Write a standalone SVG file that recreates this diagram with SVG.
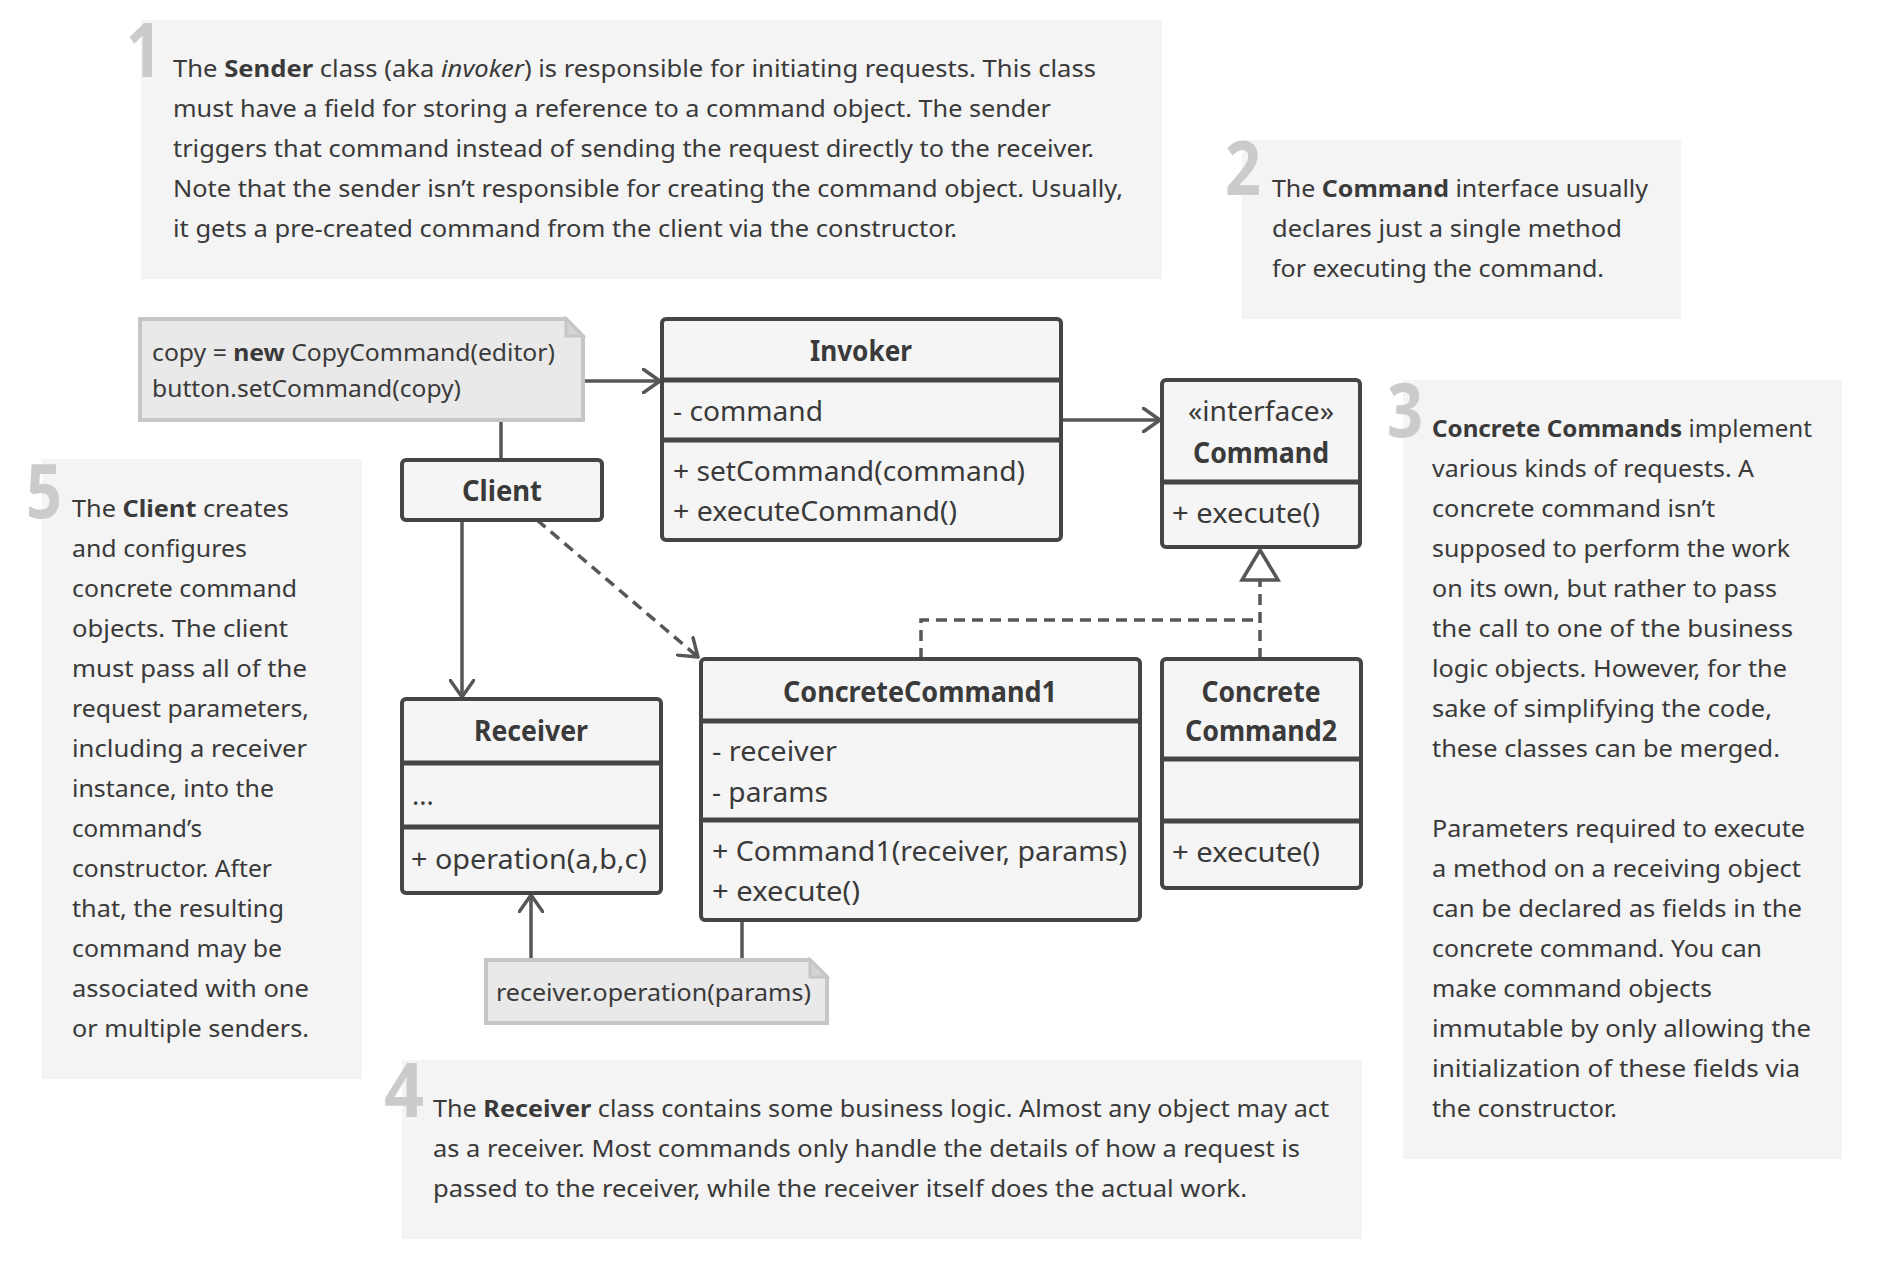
<svg xmlns="http://www.w3.org/2000/svg" width="1880" height="1278" viewBox="0 0 1880 1278">
<defs>
<style>
.box{fill:#f4f4f4;stroke:none}
.dig{font-family:"Noto Sans","Liberation Sans",sans-serif;font-weight:bold;font-size:76px;fill:#cbcbcb}
.t{font-family:"Noto Sans","Liberation Sans",sans-serif;font-size:24px;fill:#3a3a3a}
.b{font-weight:bold}
.i{font-style:italic}
.node{fill:#f5f5f5;stroke:#454545;stroke-width:4}
.div{stroke:#454545;stroke-width:5}
.title{font-family:"Noto Sans","Liberation Sans",sans-serif;font-size:28px;font-weight:bold;fill:#3a3a3a;text-anchor:middle}
.mem{font-family:"Noto Sans","Liberation Sans",sans-serif;font-size:27px;fill:#3a3a3a}
.note{fill:#e9e9e9;stroke:#c6c6c6;stroke-width:4}
.fold{fill:#d4d4d4;stroke:#c6c6c6;stroke-width:3}
.nt{font-family:"Noto Sans","Liberation Sans",sans-serif;font-size:24px;fill:#3a3a3a}
.ln{fill:none;stroke:#575757;stroke-width:3.5}
.dash{stroke-dasharray:11 7}
</style>
<marker id="open" viewBox="0 0 20 26" refX="18" refY="13" markerWidth="20" markerHeight="26" markerUnits="userSpaceOnUse" orient="auto">
<path d="M1,1 L18,13 L1,25" fill="none" stroke="#575757" stroke-width="3.5" stroke-linecap="round"/>
</marker>
</defs>
<rect width="1880" height="1278" fill="#ffffff"/>

<g id="box1">
<rect class="box" x="141" y="20" width="1021" height="259"/>
<text class="dig" x="126" y="77" textLength="36" lengthAdjust="spacingAndGlyphs">1</text>
<text class="t" x="173" y="77" textLength="923" lengthAdjust="spacingAndGlyphs">The <tspan class="b">Sender</tspan> class (aka <tspan class="i">invoker</tspan>) is responsible for initiating requests. This class</text>
<text class="t" x="173" y="117" textLength="878" lengthAdjust="spacingAndGlyphs">must have a field for storing a reference to a command object. The sender</text>
<text class="t" x="173" y="157" textLength="921" lengthAdjust="spacingAndGlyphs">triggers that command instead of sending the request directly to the receiver.</text>
<text class="t" x="173" y="197" textLength="950" lengthAdjust="spacingAndGlyphs">Note that the sender isn’t responsible for creating the command object. Usually,</text>
<text class="t" x="173" y="237" textLength="784" lengthAdjust="spacingAndGlyphs">it gets a pre-created command from the client via the constructor.</text>
</g>

<g id="box2">
<rect class="box" x="1242" y="140" width="439" height="179"/>
<text class="dig" x="1225" y="195" textLength="36" lengthAdjust="spacingAndGlyphs">2</text>
<text class="t" x="1272" y="197" textLength="376" lengthAdjust="spacingAndGlyphs">The <tspan class="b">Command</tspan> interface usually</text>
<text class="t" x="1272" y="237" textLength="350" lengthAdjust="spacingAndGlyphs">declares just a single method</text>
<text class="t" x="1272" y="277" textLength="332" lengthAdjust="spacingAndGlyphs">for executing the command.</text>
</g>

<g id="box3">
<rect class="box" x="1403" y="380" width="439" height="779"/>
<text class="dig" x="1387" y="437" textLength="36" lengthAdjust="spacingAndGlyphs">3</text>
<text class="t" x="1432" y="437" textLength="380" lengthAdjust="spacingAndGlyphs"><tspan class="b">Concrete Commands</tspan> implement</text>
<text class="t" x="1432" y="477" textLength="322" lengthAdjust="spacingAndGlyphs">various kinds of requests. A</text>
<text class="t" x="1432" y="517" textLength="283" lengthAdjust="spacingAndGlyphs">concrete command isn’t</text>
<text class="t" x="1432" y="557" textLength="358" lengthAdjust="spacingAndGlyphs">supposed to perform the work</text>
<text class="t" x="1432" y="597" textLength="345" lengthAdjust="spacingAndGlyphs">on its own, but rather to pass</text>
<text class="t" x="1432" y="637" textLength="361" lengthAdjust="spacingAndGlyphs">the call to one of the business</text>
<text class="t" x="1432" y="677" textLength="355" lengthAdjust="spacingAndGlyphs">logic objects. However, for the</text>
<text class="t" x="1432" y="717" textLength="340" lengthAdjust="spacingAndGlyphs">sake of simplifying the code,</text>
<text class="t" x="1432" y="757" textLength="348" lengthAdjust="spacingAndGlyphs">these classes can be merged.</text>
<text class="t" x="1432" y="837" textLength="373" lengthAdjust="spacingAndGlyphs">Parameters required to execute</text>
<text class="t" x="1432" y="877" textLength="369" lengthAdjust="spacingAndGlyphs">a method on a receiving object</text>
<text class="t" x="1432" y="917" textLength="370" lengthAdjust="spacingAndGlyphs">can be declared as fields in the</text>
<text class="t" x="1432" y="957" textLength="330" lengthAdjust="spacingAndGlyphs">concrete command. You can</text>
<text class="t" x="1432" y="997" textLength="280" lengthAdjust="spacingAndGlyphs">make command objects</text>
<text class="t" x="1432" y="1037" textLength="379" lengthAdjust="spacingAndGlyphs">immutable by only allowing the</text>
<text class="t" x="1432" y="1077" textLength="368" lengthAdjust="spacingAndGlyphs">initialization of these fields via</text>
<text class="t" x="1432" y="1117" textLength="185" lengthAdjust="spacingAndGlyphs">the constructor.</text>
</g>

<g id="box4">
<rect class="box" x="402" y="1060" width="960" height="179"/>
<text class="dig" x="384" y="1117" textLength="40" lengthAdjust="spacingAndGlyphs">4</text>
<text class="t" x="433" y="1117" textLength="896" lengthAdjust="spacingAndGlyphs">The <tspan class="b">Receiver</tspan> class contains some business logic. Almost any object may act</text>
<text class="t" x="433" y="1157" textLength="867" lengthAdjust="spacingAndGlyphs">as a receiver. Most commands only handle the details of how a request is</text>
<text class="t" x="433" y="1197" textLength="814" lengthAdjust="spacingAndGlyphs">passed to the receiver, while the receiver itself does the actual work.</text>
</g>

<g id="box5">
<rect class="box" x="42" y="459" width="320" height="620"/>
<text class="dig" x="26" y="518" textLength="36" lengthAdjust="spacingAndGlyphs">5</text>
<text class="t" x="72" y="517" textLength="217" lengthAdjust="spacingAndGlyphs">The <tspan class="b">Client</tspan> creates</text>
<text class="t" x="72" y="557" textLength="175" lengthAdjust="spacingAndGlyphs">and configures</text>
<text class="t" x="72" y="597" textLength="225" lengthAdjust="spacingAndGlyphs">concrete command</text>
<text class="t" x="72" y="637" textLength="216" lengthAdjust="spacingAndGlyphs">objects. The client</text>
<text class="t" x="72" y="677" textLength="235" lengthAdjust="spacingAndGlyphs">must pass all of the</text>
<text class="t" x="72" y="717" textLength="237" lengthAdjust="spacingAndGlyphs">request parameters,</text>
<text class="t" x="72" y="757" textLength="235" lengthAdjust="spacingAndGlyphs">including a receiver</text>
<text class="t" x="72" y="797" textLength="202" lengthAdjust="spacingAndGlyphs">instance, into the</text>
<text class="t" x="72" y="837" textLength="130" lengthAdjust="spacingAndGlyphs">command’s</text>
<text class="t" x="72" y="877" textLength="200" lengthAdjust="spacingAndGlyphs">constructor. After</text>
<text class="t" x="72" y="917" textLength="212" lengthAdjust="spacingAndGlyphs">that, the resulting</text>
<text class="t" x="72" y="957" textLength="210" lengthAdjust="spacingAndGlyphs">command may be</text>
<text class="t" x="72" y="997" textLength="237" lengthAdjust="spacingAndGlyphs">associated with one</text>
<text class="t" x="72" y="1037" textLength="237" lengthAdjust="spacingAndGlyphs">or multiple senders.</text>
</g>

<g id="connectors">
<line class="ln" x1="583" y1="381" x2="660" y2="381" marker-end="url(#open)"/>
<line class="ln" x1="1061" y1="420" x2="1160" y2="420" marker-end="url(#open)"/>
<line class="ln" x1="501" y1="420" x2="501" y2="460"/>
<line class="ln" x1="462" y1="520" x2="462" y2="697" marker-end="url(#open)"/>
<line class="ln dash" x1="537" y1="520" x2="698" y2="657" marker-end="url(#open)"/>
<polyline class="ln dash" points="921,659 921,620 1260,620"/>
<line class="ln dash" x1="1260" y1="659" x2="1260" y2="580"/>
<polygon points="1260,550 1278,580 1242,580" fill="#ffffff" stroke="#575757" stroke-width="3.5" stroke-linejoin="miter"/>
<line class="ln" x1="742" y1="920" x2="742" y2="960"/>
<line class="ln" x1="531" y1="960" x2="531" y2="895" marker-end="url(#open)"/>
</g>

<g id="note1">
<path class="note" d="M140,319 H566 L583,336 V420 H140 Z"/>
<path class="fold" d="M566,319 V336 H583 Z"/>
<text class="nt" x="152" y="361" textLength="403" lengthAdjust="spacingAndGlyphs">copy = <tspan class="b">new</tspan> CopyCommand(editor)</text>
<text class="nt" x="152" y="397" textLength="309" lengthAdjust="spacingAndGlyphs">button.setCommand(copy)</text>
</g>

<g id="invoker">
<rect class="node" x="662" y="319" width="399" height="221" rx="4"/>
<line class="div" x1="662" y1="380" x2="1061" y2="380"/>
<line class="div" x1="662" y1="440" x2="1061" y2="440"/>
<text class="title" x="861" y="361" textLength="102" lengthAdjust="spacingAndGlyphs">Invoker</text>
<text class="mem" x="673" y="421" textLength="150" lengthAdjust="spacingAndGlyphs">- command</text>
<text class="mem" x="673" y="481" textLength="352" lengthAdjust="spacingAndGlyphs">+ setCommand(command)</text>
<text class="mem" x="673" y="521" textLength="284" lengthAdjust="spacingAndGlyphs">+ executeCommand()</text>
</g>

<g id="command">
<rect class="node" x="1162" y="380" width="198" height="167" rx="4"/>
<line class="div" x1="1162" y1="482" x2="1360" y2="482"/>
<text class="mem" x="1261" y="421" text-anchor="middle" textLength="146" lengthAdjust="spacingAndGlyphs">«interface»</text>
<text class="title" x="1261" y="463" textLength="136" lengthAdjust="spacingAndGlyphs">Command</text>
<text class="mem" x="1172" y="523" textLength="148" lengthAdjust="spacingAndGlyphs">+ execute()</text>
</g>

<g id="client">
<rect class="node" x="402" y="460" width="200" height="60" rx="4"/>
<text class="title" x="502" y="501" textLength="80" lengthAdjust="spacingAndGlyphs">Client</text>
</g>

<g id="receiver">
<rect class="node" x="402" y="699" width="259" height="194" rx="4"/>
<line class="div" x1="402" y1="763" x2="661" y2="763"/>
<line class="div" x1="402" y1="827" x2="661" y2="827"/>
<text class="title" x="531" y="741" textLength="114" lengthAdjust="spacingAndGlyphs">Receiver</text>
<text class="mem" x="412" y="805">...</text>
<text class="mem" x="411" y="869" textLength="236" lengthAdjust="spacingAndGlyphs">+ operation(a,b,c)</text>
</g>

<g id="concreteCommand1">
<rect class="node" x="701" y="659" width="439" height="261" rx="4"/>
<line class="div" x1="701" y1="721" x2="1140" y2="721"/>
<line class="div" x1="701" y1="820" x2="1140" y2="820"/>
<text class="title" x="920" y="702" textLength="274" lengthAdjust="spacingAndGlyphs">ConcreteCommand1</text>
<text class="mem" x="712" y="761" textLength="125" lengthAdjust="spacingAndGlyphs">- receiver</text>
<text class="mem" x="712" y="802" textLength="116" lengthAdjust="spacingAndGlyphs">- params</text>
<text class="mem" x="712" y="861" textLength="415" lengthAdjust="spacingAndGlyphs">+ Command1(receiver, params)</text>
<text class="mem" x="712" y="901" textLength="148" lengthAdjust="spacingAndGlyphs">+ execute()</text>
</g>

<g id="concreteCommand2">
<rect class="node" x="1162" y="659" width="199" height="229" rx="4"/>
<line class="div" x1="1162" y1="759" x2="1361" y2="759"/>
<line class="div" x1="1162" y1="821" x2="1361" y2="821"/>
<text class="title" x="1261" y="702" textLength="119" lengthAdjust="spacingAndGlyphs">Concrete</text>
<text class="title" x="1261" y="741" textLength="152" lengthAdjust="spacingAndGlyphs">Command2</text>
<text class="mem" x="1172" y="862" textLength="148" lengthAdjust="spacingAndGlyphs">+ execute()</text>
</g>

<g id="note2">
<path class="note" d="M486,960 H810 L827,977 V1023 H486 Z"/>
<path class="fold" d="M810,960 V977 H827 Z"/>
<text class="nt" x="496" y="1001" textLength="315" lengthAdjust="spacingAndGlyphs">receiver.operation(params)</text>
</g>
</svg>
